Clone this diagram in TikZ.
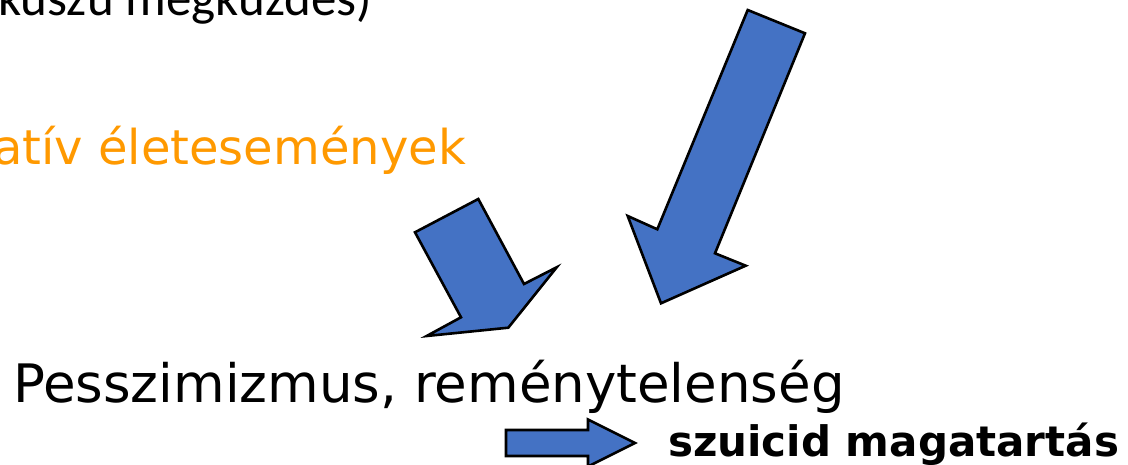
\documentclass[tikz,border=0pt]{standalone}
\usepackage{fontspec}
\setmainfont{DejaVu Sans}
\newfontfamily\copingfont{Carlito}
\definecolor{arrowblue}{HTML}{4472C4}
\definecolor{eventorange}{HTML}{FF9900}
\tikzset{
  blockarrow/.style={fill=arrowblue, draw=black, line width=2.6pt, line join=miter},
  label/.style={inner sep=0pt, outer sep=0pt}
}
\begin{document}
\begin{tikzpicture}[x=1pt,y=-1pt]
\useasboundingbox (0,0) rectangle (1128,465);
\clip (0,0) rectangle (1128,465);

% texts
\node[label, anchor=base east, font=\copingfont\fontsize{51}{51}\selectfont] (coping) at (372,16) {kuszú megküzdés)};
\node[label, anchor=base east, text=eventorange, font=\fontsize{48}{48}\selectfont] (events) at (466,165) {atív életesemények};
\node[label, anchor=base west, font=\fontsize{53}{53}\selectfont] (hopeless) at (13,402) {Pesszimizmus, reménytelenség};
\node[label, anchor=base east, font=\bfseries\fontsize{42}{42}\selectfont] (suicide) at (1119,456) {szuicid magatartás};

% large arrow from the top right
\draw[blockarrow] (747.7,10) -- (805,33.3) -- (715,253.3) -- (745.7,265.7)
  -- (661,303.3) -- (627.7,216) -- (657.3,229.3) -- cycle;

% small arrow in the middle
\draw[blockarrow] (415,232.3) -- (478.3,199) -- (524,284) -- (556.7,267.3)
  -- (508.3,327.7) -- (426.7,336) -- (461,317.3) -- cycle;

% arrow towards the outcome
\draw[blockarrow] (506,430) -- (588,430) -- (588,419.5) -- (635,443)
  -- (588,466.5) -- (588,456) -- (506,456) -- cycle;
\end{tikzpicture}
\end{document}
